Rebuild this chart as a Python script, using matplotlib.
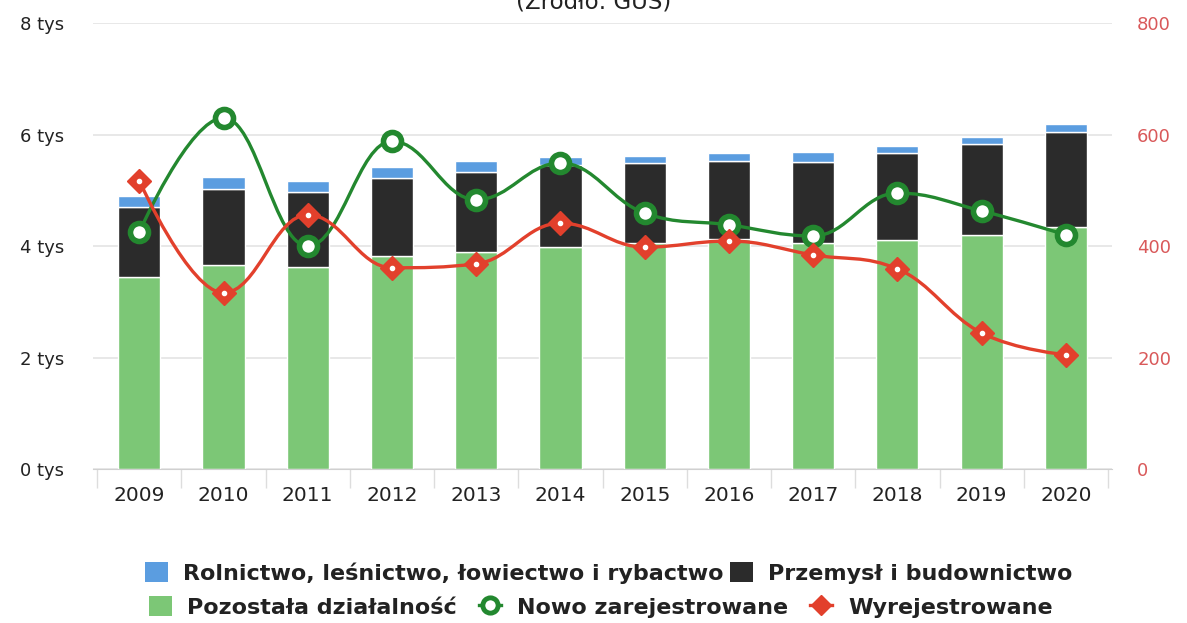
import matplotlib
matplotlib.use("Agg")
import matplotlib.pyplot as plt
import numpy as np
from matplotlib.lines import Line2D
from matplotlib.patches import Patch, PathPatch
from matplotlib.path import Path

years = ["2009", "2010", "2011", "2012", "2013", "2014",
         "2015", "2016", "2017", "2018", "2019", "2020"]
# stacked bars, thousands of entities
pozostala = [3.45, 3.66, 3.62, 3.82, 3.89, 3.98, 4.05, 4.13, 4.05, 4.11, 4.20, 4.34]
przemysl = [1.25, 1.36, 1.35, 1.40, 1.44, 1.47, 1.44, 1.40, 1.46, 1.56, 1.63, 1.71]
rolnictwo = [0.20, 0.22, 0.20, 0.20, 0.20, 0.15, 0.13, 0.14, 0.18, 0.12, 0.13, 0.14]
# lines, right axis
nowo = [425, 630, 400, 588, 483, 549, 459, 438, 418, 495, 463, 420]
wyrej = [517, 316, 456, 361, 368, 441, 398, 409, 384, 359, 244, 205]

C_BLUE = "#5b9de0"
C_BLACK = "#2b2b2b"
C_GREEN_BAR = "#7cc776"
C_GREEN = "#23882f"
C_RED = "#e2402c"
C_RIGHT = "#d9595a"
GRID = "#e4e4e4"


def spline_path(xs, ys, smoothing=1.5):
    """Highcharts-style spline as a bezier path through the data points."""
    n = len(xs)
    left = [(xs[0], ys[0])] * n
    right = [(xs[0], ys[0])] * n
    for i in range(n):
        x, y = xs[i], ys[i]
        if i == 0 or i == n - 1:
            left[i] = (x, y)
            right[i] = (x, y)
            continue
        lx, ly = xs[i - 1], ys[i - 1]
        nx, ny = xs[i + 1], ys[i + 1]
        d = smoothing + 1
        lcx, lcy = (smoothing * x + lx) / d, (smoothing * y + ly) / d
        rcx, rcy = (smoothing * x + nx) / d, (smoothing * y + ny) / d
        corr = ((rcy - lcy) * (rcx - x)) / (rcx - lcx) + y - rcy
        lcy += corr
        rcy += corr
        if lcy > ly and lcy > y:
            lcy = max(ly, y)
            rcy = 2 * y - lcy
        elif lcy < ly and lcy < y:
            lcy = min(ly, y)
            rcy = 2 * y - lcy
        if rcy > ny and rcy > y:
            rcy = max(ny, y)
            lcy = 2 * y - rcy
        elif rcy < ny and rcy < y:
            rcy = min(ny, y)
            lcy = 2 * y - rcy
        left[i] = (lcx, lcy)
        right[i] = (rcx, rcy)
    verts = [(xs[0], ys[0])]
    codes = [Path.MOVETO]
    for i in range(1, n):
        verts += [right[i - 1], left[i], (xs[i], ys[i])]
        codes += [Path.CURVE4] * 3
    return Path(verts, codes)


fig = plt.figure(figsize=(11.87, 6.23), dpi=100)
ax = fig.add_axes([0.0783, 0.2472, 0.8587, 0.7158])
ax2 = ax.twinx()

x = np.arange(len(years))
w = 0.5
ax.bar(x, pozostala, w, color=C_GREEN_BAR, edgecolor="white", linewidth=1, zorder=2)
ax.bar(x, przemysl, w, bottom=pozostala, color=C_BLACK, edgecolor="white", linewidth=1, zorder=2)
bottom2 = np.array(pozostala) + np.array(przemysl)
ax.bar(x, rolnictwo, w, bottom=bottom2, color=C_BLUE, edgecolor="white", linewidth=1, zorder=2)

ax.set_xlim(-0.55, 11.55)
ax.set_ylim(0, 8)
ax.set_yticks([0, 2, 4, 6, 8])
ax.set_yticklabels(["0 tys", "2 tys", "4 tys", "6 tys", "8 tys"], fontsize=13, color="#222222")
ax.yaxis.grid(True, color=GRID, linewidth=1.2, zorder=0)
ax.set_axisbelow(True)
ax.tick_params(axis="y", length=0, pad=21)

ax.set_xticks(x)
ax.set_xticklabels(years, fontsize=14.5, color="#222222")
ax.set_xticks(np.arange(-0.5, 12.0, 1.0), minor=True)
ax.tick_params(axis="x", which="major", length=0, pad=12)
ax.tick_params(axis="x", which="minor", length=14, color="#dddddd", width=1)

for sp in ["top", "left", "right"]:
    ax.spines[sp].set_visible(False)
    ax2.spines[sp].set_visible(False)
ax.spines["bottom"].set_color("#d0d0d0")
ax2.spines["bottom"].set_visible(False)

ax2.set_ylim(0, 800)
ax2.set_yticks([0, 200, 400, 600, 800])
ax2.tick_params(axis="y", length=0, pad=18, labelsize=13, labelcolor=C_RIGHT)

ax2.add_patch(PathPatch(spline_path(list(x), nowo), facecolor="none",
                        edgecolor=C_GREEN, linewidth=2.4, zorder=3))
ax2.add_patch(PathPatch(spline_path(list(x), wyrej), facecolor="none",
                        edgecolor=C_RED, linewidth=2.4, zorder=3))
ax2.plot(x, nowo, linestyle="none", marker="o", markersize=13,
         markerfacecolor="white", markeredgecolor=C_GREEN, markeredgewidth=4, zorder=4)
ax2.plot(x, wyrej, linestyle="none", marker="D", markersize=12,
         markerfacecolor=C_RED, markeredgecolor=C_RED, zorder=4)
ax2.plot(x, wyrej, linestyle="none", marker="o", markersize=3,
         markerfacecolor="white", markeredgecolor="white", zorder=5)

# title sits mostly above the visible area, as in the source image
fig.text(0.5, 1 - 10 / 623, "(Źródło: GUS)", ha="center", va="baseline",
         fontsize=16.5, color="#222222")

legend_font = {"size": 16, "weight": "bold"}
h1 = [Patch(facecolor=C_BLUE, edgecolor="none"),
      Patch(facecolor=C_BLACK, edgecolor="none")]
l1 = ["Rolnictwo, leśnictwo, łowiectwo i rybactwo", "Przemysł i budownictwo"]
leg1 = fig.legend(h1, l1, loc="center", bbox_to_anchor=(609 / 1187, 1 - 573 / 623),
                  ncol=2, frameon=False, prop=legend_font, handlelength=1.0,
                  handleheight=1.0, handletextpad=0.7, columnspacing=0.3)
for t in leg1.get_texts():
    t.set_color("#222222")

h2 = [Patch(facecolor=C_GREEN_BAR, edgecolor="none"),
      Line2D([0], [0], color=C_GREEN, linewidth=2.4, marker="o", markersize=11,
             markerfacecolor="white", markeredgecolor=C_GREEN, markeredgewidth=3.5),
      Line2D([0], [0], color=C_RED, linewidth=2.4, marker="D", markersize=10,
             markerfacecolor=C_RED, markeredgecolor=C_RED)]
l2 = ["Pozostała działalność", "Nowo zarejestrowane", "Wyrejestrowane"]
leg2 = fig.legend(h2, l2, loc="center", bbox_to_anchor=(601 / 1187, 1 - 607 / 623),
                  ncol=3, frameon=False, prop=legend_font, handlelength=1.0,
                  handleheight=1.0, handletextpad=0.7, columnspacing=1.0)
for t in leg2.get_texts():
    t.set_color("#222222")

fig.savefig("out.png", dpi=100)
